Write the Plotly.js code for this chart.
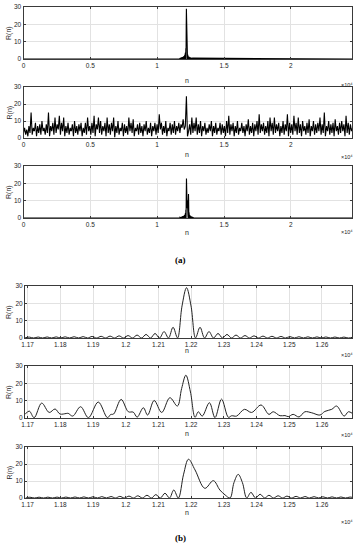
<!DOCTYPE html>
<html>
<head>
<meta charset="utf-8">
<script src="https://cdn.plot.ly/plotly-3.0.1.min.js"></script>
<style>
  html, body { margin: 0; padding: 0; background: #fff; }
  #chart { width: 358px; height: 550px; }
</style>
</head>
<body>
<div id="chart"></div>
<script>
// ---- (a) whole record ----
const fullRange = [0, 24576];
const fullTickVals = [0, 5000, 10000, 15000, 20000];
const fullTickText = ['0', '0.5', '1', '1.5', '2'];

// middle panel of (a): noisy correlation, one value every 81.25 samples
const noiseStep = 81.25;
const noiseR = [
  3, 6, 2, 5, 1, 7, 3, 15, 2, 6,
  4, 9, 1, 7, 3, 8, 2, 10, 4, 6,
  2, 8, 3, 15, 1, 7, 4, 9, 2, 12,
  3, 8, 5, 13, 2, 9, 4, 12, 1, 7,
  3, 9, 2, 6, 4, 8, 1, 10, 3, 7,
  2, 8, 4, 9, 1, 6, 3, 9, 2, 12,
  4, 7, 2, 9, 3, 13, 1, 8, 5, 12,
  3, 10, 2, 7, 4, 9, 1, 12, 3, 8,
  2, 9, 4, 12, 0.5, 7, 3, 10, 2, 6,
  4, 9, 1, 8, 3, 7, 2, 12, 4, 9,
  3, 11, 1, 6, 4, 8, 2, 9, 3, 7,
  1, 8, 4, 10, 2, 6, 3, 9, 1, 7,
  4, 9, 2, 8, 3, 14, 5, 9, 2, 7,
  3, 10, 1, 6, 4, 9, 2, 8, 3, 10,
  2, 7, 4, 9, 3, 8, 6, 11, 5, 7,
  24.5, 1, 4, 8, 2, 12, 3, 9, 4, 12,
  2, 8, 3, 10, 1, 7, 4, 9, 2, 6,
  3, 8, 4, 10, 1, 7, 3, 9, 2, 6,
  4, 9, 2, 8, 3, 7, 1, 10, 3, 13,
  2, 8, 4, 9, 1, 7, 3, 10, 2, 6,
  4, 9, 3, 7, 1, 8, 4, 11, 2, 7,
  3, 9, 1, 8, 4, 10, 2, 14, 3, 8,
  4, 9, 2, 7, 3, 10, 1, 12, 4, 9,
  2, 12, 3, 8, 4, 9, 1, 7, 3, 10,
  2, 8, 4, 14, 1, 9, 3, 8, 2, 13,
  4, 9, 2, 12, 3, 8, 1, 10, 4, 7,
  2, 9, 3, 11, 1, 7, 4, 10, 2, 8,
  3, 9, 4, 12, 2, 8, 3, 15, 1, 7,
  4, 10, 2, 8, 3, 9, 1, 11, 4, 7,
  2, 9, 3, 10, 4, 8, 1, 13, 3, 9,
  2, 8, 4, 6
];

// ---- (b) zoom around the peak ----
const zoomRange = [11692, 12692];
const zoomTickVals = [11700, 11800, 11900, 12000, 12100, 12200, 12300, 12400, 12500, 12600];
const zoomTickText = ['1.17', '1.18', '1.19', '1.2', '1.21', '1.22', '1.23', '1.24', '1.25', '1.26'];
const yTickVals = [0, 10, 20, 30];

// top curve: zeros and lobe tops, every 13.75 samples from 11691
const cleanStart = 11691;
const cleanStep = 13.75;
const cleanR = [
  0, 0.53, 0, 0.56, 0, 0.6, 0, 0.64, 0, 0.68, 0, 0.74, 0, 0.8, 0, 0.88, 0, 0.97, 0,
  1.08, 0, 1.22, 0, 1.4, 0, 1.68, 0, 2.05, 0, 2.6, 0, 3.7, 0, 6.2, 0,
  18.5, 29, 18.5, 0,
  6.2, 0, 3.7, 0, 2.6, 0, 2.05, 0, 1.68, 0, 1.4, 0, 1.22, 0, 1.08, 0, 0.97, 0,
  0.88, 0, 0.8, 0, 0.74, 0, 0.68, 0, 0.64, 0, 0.6, 0, 0.56, 0, 0.53, 0, 0.5
];

// middle curve
const noisyN = [11692, 11705, 11720, 11743, 11766, 11784, 11799, 11818, 11824, 11838,
  11862, 11886, 11916, 11944, 11954, 11963, 11986, 12008, 12023, 12035,
  12054, 12067, 12087, 12110, 12135, 12158, 12171, 12184, 12198, 12212,
  12222, 12234, 12256, 12273, 12293, 12314, 12324, 12339, 12363, 12385,
  12414, 12438, 12451, 12472, 12487, 12497, 12512, 12530, 12548, 12569,
  12594, 12609, 12630, 12645, 12668, 12681, 12693];
const noisyR = [2.1, 4, 0.2, 8.6, 3.2, 5.2, 2.3, 2.6, 2.7, 1.1,
  6.5, 0.2, 9.2, 0.2, 2, 2.3, 10.7, 3.6, 3.4, 0.5,
  5.9, 1.7, 10.1, 3.2, 11.7, 6.9, 17, 24.7, 15, 0.4,
  3.6, 1.1, 8.8, 0.2, 10.9, 0.4, 1.3, 1.1, 5, 3.2,
  7.5, 2.1, 3.6, 1.3, 1.4, 0.8, 2.1, 0.6, 3.6, 3,
  1.7, 3.8, 5, 6.9, 1.1, 3.6, 2.7];

// bottom curve: two paths
const twoPathN = [11694, 11707, 11721, 11735, 11749, 11762, 11776, 11790, 11804, 11817,
  11831, 11845, 11859, 11872, 11886, 11900, 11914, 11927, 11941, 11955,
  11969, 11982, 11996, 12010, 12024, 12037, 12051, 12065, 12079, 12092,
  12106, 12120, 12134, 12147, 12161,
  12177, 12192, 12212, 12242, 12268, 12288, 12304, 12319, 12331, 12344, 12357, 12370,
  12383, 12397, 12411, 12425, 12438, 12452, 12466, 12480, 12493, 12507,
  12521, 12535, 12548, 12562, 12576, 12590, 12603, 12617, 12631, 12645,
  12658, 12672, 12686, 12700];
const twoPathR = [0, 0.45, 0, 0.47, 0, 0.5, 0, 0.52, 0, 0.55,
  0, 0.6, 0, 0.65, 0, 0.7, 0, 0.8, 0, 0.85,
  0, 0.95, 0, 1.1, 0, 1.3, 0, 1.6, 0, 2.0,
  0, 2.8, 0, 4.7, 0,
  14, 22.8, 16.5, 5.7, 10.2, 4.7, 1.8, 0, 9, 13.9, 9, 0,
  3.3, 0, 2.2, 0, 1.6, 0, 1.3, 0, 1.1, 0,
  0.95, 0, 0.85, 0, 0.78, 0, 0.7, 0, 0.65, 0,
  0.6, 0, 0.55, 0];

const cleanN = cleanR.map((_, i) => cleanStart + i * cleanStep);

// panel boxes in pixels (top, bottom) on a 358 x 550 page
const W = 358, H = 550;
const boxes = [[7, 59], [87, 138], [166, 218], [286, 338], [366, 418], [447, 498]];
const nLabelY = [81, 154, 232, 350, 433, 512];
const expLabelY = [85, 157, 232, 355, 435, 522];

const axisColor = '#3a3a3a';
const gridColor = '#e2e2e2';
const sans = 'Liberation Sans, Arial, sans-serif';
const tickFont = { family: sans, size: 6.5, color: '#262626' };

function yDomain(b) { return [1 - b[1] / H, 1 - b[0] / H]; }

function makeX(i, range, vals, text, left) {
  return {
    domain: [left / W, 352 / W], anchor: 'y' + (i + 1), range: range,
    tickmode: 'array', tickvals: vals, ticktext: text,
    showgrid: true, gridcolor: gridColor, gridwidth: 1, zeroline: false,
    showline: true, linecolor: axisColor, linewidth: 1, mirror: 'ticks',
    ticks: 'inside', ticklen: 2, tickcolor: axisColor, tickfont: tickFont,
    fixedrange: true
  };
}
function makeY(i) {
  return {
    domain: yDomain(boxes[i]), anchor: 'x' + (i + 1), range: [0, 30],
    tickmode: 'array', tickvals: yTickVals,
    showgrid: true, gridcolor: gridColor, gridwidth: 1, zeroline: false,
    showline: true, linecolor: axisColor, linewidth: 1, mirror: 'ticks',
    ticks: 'inside', ticklen: 2, tickcolor: axisColor, tickfont: tickFont,
    fixedrange: true
  };
}

const traces = [
  { x: [fullRange[0], ...cleanN, fullRange[1]], y: [0, ...cleanR, 0],
    xaxis: 'x', yaxis: 'y', line: { color: '#000', width: 1.1 } },
  { x0: 0, dx: noiseStep, y: noiseR,
    xaxis: 'x2', yaxis: 'y2', line: { color: '#000', width: 1.1 } },
  { x: [fullRange[0], ...twoPathN, fullRange[1]], y: [0, ...twoPathR, 0],
    xaxis: 'x3', yaxis: 'y3', line: { color: '#000', width: 1.1 } },
  { x: cleanN, y: cleanR,
    xaxis: 'x4', yaxis: 'y4', line: { color: '#222', width: 1, shape: 'spline' } },
  { x: noisyN, y: noisyR,
    xaxis: 'x5', yaxis: 'y5', line: { color: '#222', width: 1, shape: 'spline' } },
  { x: twoPathN, y: twoPathR,
    xaxis: 'x6', yaxis: 'y6', line: { color: '#222', width: 1, shape: 'spline' } }
].map(t => Object.assign({ type: 'scatter', mode: 'lines', hoverinfo: 'skip' }, t));

const layout = {
  width: W, height: H,
  margin: { l: 0, r: 0, t: 0, b: 0 },
  paper_bgcolor: '#fff', plot_bgcolor: '#fff',
  font: { family: sans, size: 7, color: '#262626' },
  showlegend: false,
  annotations: []
};

function note(text, px, py, size, extra) {
  return Object.assign({
    text: text, x: px / W, y: 1 - py / H,
    xref: 'paper', yref: 'paper', showarrow: false, xanchor: 'center', yanchor: 'middle',
    font: { family: sans, size: size, color: '#262626' }
  }, extra || {});
}

for (let i = 0; i < 6; i++) {
  const full = i < 3;
  const suffix = i === 0 ? '' : String(i + 1);
  layout['xaxis' + suffix] = full
    ? makeX(i, fullRange, fullTickVals, fullTickText, 23.5)
    : makeX(i, zoomRange, zoomTickVals, zoomTickText, 25);
  layout['yaxis' + suffix] = makeY(i);

  const mid = (boxes[i][0] + boxes[i][1]) / 2;
  layout.annotations.push(
    note('R(n)', 9, mid, 7, { textangle: -90 }),
    note('n', 187, nLabelY[i], 7),
    note('×10⁴', 355, expLabelY[i], 5.5, { xanchor: 'right' })
  );
}
const serifBold = { family: 'Liberation Serif, Times New Roman, serif', size: 9, color: '#000' };
layout.annotations.push(
  note('<b>(a)</b>', 180, 260, 9, { font: serifBold }),
  note('<b>(b)</b>', 180, 538, 9, { font: serifBold })
);

Plotly.newPlot('chart', traces, layout, { displayModeBar: false, staticPlot: true });
</script>
</body>
</html>
